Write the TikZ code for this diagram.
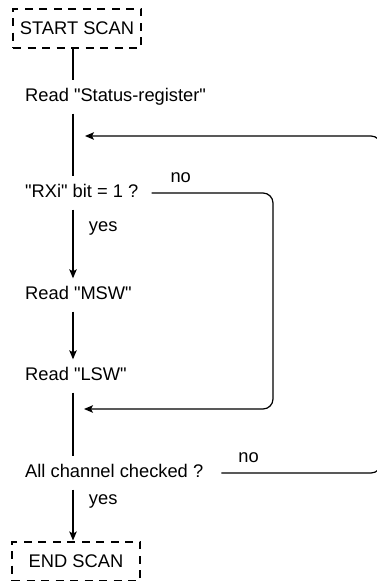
\documentclass[tikz,border=0pt]{standalone}
\usepackage{fontspec}
\setmainfont{Liberation Sans}
\usepackage{tikz}
\usetikzlibrary{arrows.meta}
\tikzset{>={Stealth[length=9pt,width=7.5pt,inset=2pt]}}
\newcommand{\qq}{\textquotedbl}
\tikzset{
  scanbox/.style={draw,dash pattern=on 8pt off 6.5pt,line width=2pt,
    minimum width=128pt,minimum height=39pt,inner sep=0pt},
  steptext/.style={anchor=west,inner xsep=0pt,inner ysep=8pt,
    text height=13pt,text depth=4pt},
  flow/.style={line width=1.2pt},
}

\begin{document}
\begin{tikzpicture}[x=1pt,y=-1pt,font=\fontsize{18.3}{21}\selectfont]
\useasboundingbox (0,0) rectangle (377,581);
\coordinate (spine) at (73,0);
\coordinate (inner) at (273,0);
\coordinate (outer) at (381,0);
% steps
\node[scanbox] (start) at (77,28) {START SCAN};
\node[steptext] (status) at (25,97) {Read \qq Status-register\qq};
\node[steptext] (rxi) at (25,193) {\qq RXi\qq\ bit = 1 ?};
\node[steptext] (msw) at (25,295) {Read \qq MSW\qq};
\node[steptext] (lsw) at (25,376) {Read \qq LSW\qq};
\node[steptext] (chk) at (25,473) {All channel checked ?};
\node[scanbox] (end) at (76,561) {END SCAN};
% main line
\draw[flow] (start.south -| spine) -- (status.north -| spine);
\draw[flow] (status.south -| spine) -- (rxi.north -| spine);
\draw[flow,->] (rxi.south -| spine) -- node[pos=.28,right=12pt] {yes} (msw.north -| spine);
\draw[flow,->] (msw.south -| spine) -- (lsw.north -| spine);
\draw[flow] (lsw.south -| spine) -- (chk.north -| spine);
\draw[flow,->] (chk.south -| spine) -- node[pos=.24,right=12pt] {yes} (end.north -| spine);
% loops
\coordinate (skip) at (84,409);
\coordinate (again) at (85,136);
\draw[flow,->,rounded corners=10pt] ([xshift=13pt]rxi.east)
  -- node[pos=.24,above=6pt] {no} (rxi.east -| inner) -- (skip -| inner) -- (skip);
\draw[flow,->,rounded corners=10pt] ([xshift=18pt]chk.east)
  -- node[pos=.17,above=6pt] {no} (chk.east -| outer) -- (again -| outer) -- (again);
\end{tikzpicture}
\end{document}
